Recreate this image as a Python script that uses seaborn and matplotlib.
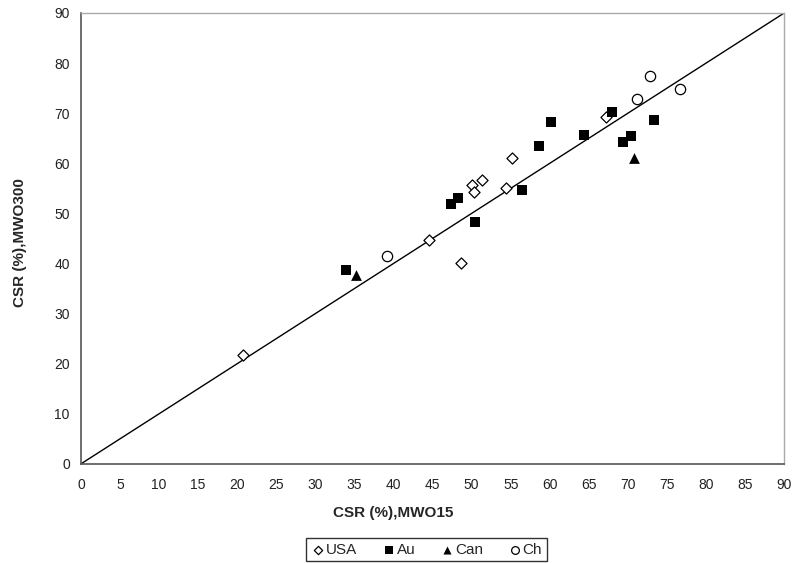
import pandas as pd
import matplotlib
matplotlib.use("Agg")
import matplotlib.pyplot as plt
import seaborn as sns

# values
usa_x = [20.7, 44.6, 48.6, 50.1, 50.3, 51.3, 54.4, 55.2, 67.2]
usa_y = [21.7, 44.6, 40.1, 55.7, 54.3, 56.6, 55.1, 61.0, 69.3]
au_x = [33.9, 47.4, 48.3, 50.4, 56.5, 58.6, 60.1, 64.4, 68.0, 69.4, 70.4, 73.3]
au_y = [38.7, 51.9, 53.1, 48.2, 54.7, 63.5, 68.3, 65.6, 70.2, 64.3, 65.4, 68.6]
can_x = [35.2, 70.8]
can_y = [37.7, 61.0]
ch_x = [39.2, 71.1, 72.8, 76.7]
ch_y = [41.5, 72.8, 77.5, 74.9]
line_xy = [0, 90]

groups = ["USA", "Au", "Can", "Ch"]
frames = []
for name, xs, ys in [("USA", usa_x, usa_y), ("Au", au_x, au_y),
                     ("Can", can_x, can_y), ("Ch", ch_x, ch_y)]:
    frames.append(pd.DataFrame({"mwo15": xs, "mwo300": ys, "country": name}))
df = pd.concat(frames, ignore_index=True)

sns.set_style("white")
plt.rcParams['font.family'] = ['Liberation Sans', 'DejaVu Sans']

fig = plt.figure(figsize=(7.93, 5.63), dpi=100)
ax = fig.add_axes([0.102, 0.176, 0.887, 0.801])

ax.plot(line_xy, line_xy, color="black", lw=1, zorder=1)

styles = {
    "USA": dict(marker="D", s=32, facecolor="white", edgecolor="black", linewidth=0.9),
    "Au": dict(marker="s", s=60, facecolor="black", edgecolor="black", linewidth=0),
    "Can": dict(marker="^", s=60, facecolor="black", edgecolor="black", linewidth=0),
    "Ch": dict(marker="o", s=55, facecolor="white", edgecolor="black", linewidth=0.9),
}
for g in groups:
    st = styles[g]
    sns.scatterplot(data=df[df["country"] == g], x="mwo15", y="mwo300", ax=ax,
                    marker=st["marker"], s=st["s"], color=st["facecolor"],
                    edgecolor=st["edgecolor"], linewidth=st["linewidth"],
                    label=g, zorder=3)

ax.set_xlim(0, 90)
ax.set_ylim(0, 90)
ax.set_xticks(range(0, 91, 5))
ax.set_yticks(range(0, 91, 10))
ax.tick_params(axis="both", direction="out", length=4, width=1, color="#555555",
               labelsize=10, labelcolor="#222222", pad=4)
ax.tick_params(axis="x", pad=6)
for side in ["left", "bottom"]:
    ax.spines[side].set_color("#555555")
    ax.spines[side].set_linewidth(1.2)
for side in ["top", "right"]:
    ax.spines[side].set_color("#aaaaaa")
    ax.spines[side].set_linewidth(1)

ax.set_xlabel("CSR (%),MWO15", fontsize=11, fontweight="bold")
ax.xaxis.set_label_coords(0.444, -0.093)
ax.set_ylabel("CSR (%),MWO300", fontsize=11, fontweight="bold")
ax.yaxis.set_label_coords(-0.077, 0.49)

leg = ax.legend(loc="center", bbox_to_anchor=(0.491, -0.19), ncol=4, frameon=True,
                fancybox=False, edgecolor="black", fontsize=11, handletextpad=0.0,
                handlelength=1.0, columnspacing=1.6, markerscale=0.75, borderpad=0.3)
leg.get_frame().set_linewidth(1)

fig.savefig("out.png", dpi=100)
